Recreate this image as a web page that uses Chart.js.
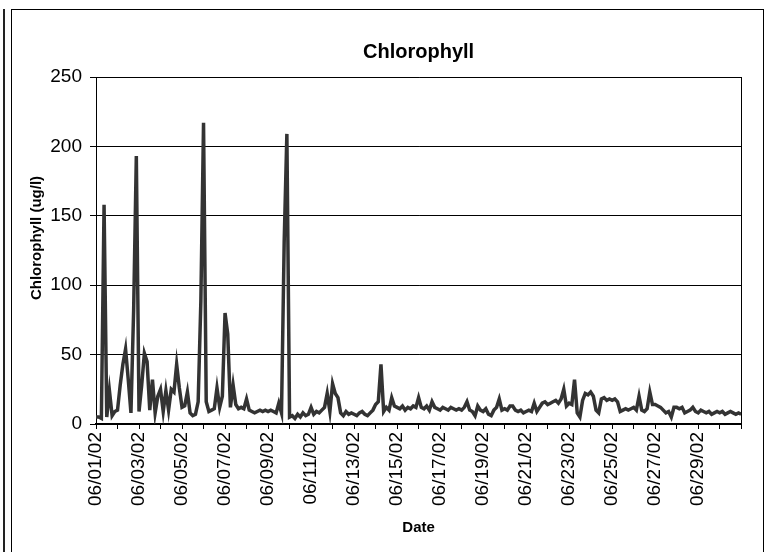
<!DOCTYPE html>
<html>
<head>
<meta charset="utf-8">
<script src="https://cdn.jsdelivr.net/npm/chart.js@4.4.0/dist/chart.umd.min.js"></script>
<style>
  html, body { margin: 0; padding: 0; background: #fff; }
  #wrap { position: relative; width: 767px; height: 552px; overflow: hidden; }
  #edge { position: absolute; left: 3px; top: 9px; width: 2px; height: 600px; background: #222; }
  #box { position: absolute; left: 11px; top: 9px; width: 753px; height: 600px; border: 1px solid #000; box-sizing: border-box; }
  canvas { position: absolute; left: 0; top: 0; }
</style>
</head>
<body>
<div id="wrap">
  <div id="edge"></div>
  <div id="box"></div>
  <canvas id="chl" width="767" height="552"></canvas>
</div>
<script>
// tick labels on the date axis (every other day)
const dateLabels = [
  '06/01/02', '06/03/02', '06/05/02', '06/07/02', '06/09/02',
  '06/11/02', '06/13/02', '06/15/02', '06/17/02', '06/19/02',
  '06/21/02', '06/23/02', '06/25/02', '06/27/02', '06/29/02'
];
const yTicks = [0, 50, 100, 150, 200, 250];

// 3-hourly readings, 8 per day
const samplesPerDay = 8;
const chl = [
  5, 5, 4, 158, 5, 24, 6, 9,        // 06/01
  10, 28, 43, 54, 32, 8, 82, 193,   // 06/02
  9, 28, 51, 45, 10, 32, 8, 20,     // 06/03
  25, 9, 24, 10, 25, 23, 43, 26,    // 06/04
  12, 13, 23, 8, 6, 7, 16, 88,      // 06/05
  217, 16, 9, 10, 11, 26, 12, 20,   // 06/06
  80, 65, 12, 28, 14, 11, 12, 11,   // 06/07
  18, 10, 9, 8, 9, 10, 9, 10,       // 06/08
  9, 10, 9, 8, 15, 8, 131, 209,     // 06/09
  5, 6, 4, 7, 5, 8, 6, 7,           // 06/10
  12, 7, 9, 8, 10, 12, 22, 9,       // 06/11
  29, 22, 19, 8, 6, 9, 7, 8,        // 06/12
  7, 6, 8, 9, 7, 6, 8, 10,          // 06/13
  14, 16, 43, 9, 12, 10, 19, 13,    // 06/14
  12, 11, 13, 10, 12, 11, 13, 12,   // 06/15
  19, 12, 11, 13, 10, 16, 12, 11,   // 06/16
  10, 12, 11, 10, 12, 11, 10, 11,   // 06/17
  10, 12, 16, 10, 9, 6, 13, 10,     // 06/18
  9, 11, 7, 6, 10, 12, 18, 10,      // 06/19
  11, 10, 13, 13, 10, 9, 10, 8,     // 06/20
  9, 10, 9, 15, 9, 12, 15, 16,      // 06/21
  14, 15, 16, 17, 15, 18, 25, 13,   // 06/22
  15, 14, 32, 8, 5, 17, 22, 21,     // 06/23
  23, 20, 10, 8, 18, 19, 17, 18,    // 06/24
  17, 18, 16, 9, 10, 11, 10, 11,    // 06/25
  12, 10, 20, 10, 9, 11, 23, 14,    // 06/26
  14, 13, 12, 10, 8, 9, 5, 12,      // 06/27
  12, 11, 12, 8, 9, 10, 12, 9,      // 06/28
  8, 10, 9, 8, 9, 7, 8, 9,          // 06/29
  8, 9, 7, 8, 9, 8, 7, 8,           // 06/30
  7                                  // 07/01
];

const points = chl.map((v, i) => ({ x: i / samplesPerDay, y: v }));

const ctx = document.getElementById('chl').getContext('2d');

new Chart(ctx, {
  type: 'line',
  data: {
    datasets: [{
      label: 'Chlorophyll',
      data: points,
      borderColor: '#333333',
      borderWidth: 3.5,
      pointRadius: 0,
      tension: 0,
      fill: false
    }]
  },
  options: {
    responsive: false,
    animation: false,
    layout: {
      padding: { left: 12, right: 4, top: 10, bottom: 0 }
    },
    plugins: {
      legend: { display: false },
      tooltip: { enabled: false },
      title: {
        display: true,
        fullSize: false, // centred over the plot, like the original
        text: 'Chlorophyll',
        color: '#000',
        font: { family: 'Liberation Sans', size: 20, weight: 'bold' },
        padding: { top: 30, bottom: 13 }
      }
    },
    scales: {
      x: {
        type: 'linear',
        min: 0,
        max: 30,
        afterFit: (scale) => { scale.height = 128; },
        border: { display: true, color: '#000', width: 2 },
        grid: {
          display: true,
          drawOnChartArea: false,
          drawTicks: true,
          tickLength: 5,
          color: '#000'
        },
        ticks: {
          stepSize: 1,
          maxTicksLimit: 40,
          autoSkip: false,
          minRotation: 90,
          maxRotation: 90,
          padding: 3,
          color: '#000',
          font: { family: 'Liberation Sans', size: 19 },
          callback: (v) => (v % 2 === 0 && v / 2 < dateLabels.length) ? dateLabels[v / 2] : ''
        },
        title: {
          display: true,
          text: 'Date',
          color: '#000',
          font: { family: 'Liberation Sans', size: 15, weight: 'bold' },
          padding: { top: 0, bottom: 15 }
        }
      },
      y: {
        min: yTicks[0],
        max: yTicks[yTicks.length - 1],
        afterFit: (scale) => { scale.width = 84; },
        border: { display: true, color: '#000', width: 1 },
        grid: {
          color: '#000',
          lineWidth: 1,
          tickLength: 6
        },
        ticks: {
          stepSize: 50,
          padding: 8,
          color: '#000',
          font: { family: 'Liberation Sans', size: 19 }
        },
        title: {
          display: true,
          text: '      Chlorophyll (ug/l)',
          color: '#000',
          font: { family: 'Liberation Sans', size: 15, weight: 'bold' },
          padding: { top: 16, bottom: 0 }
        }
      },
      y2: {
        position: 'right',
        min: 0,
        max: 250,
        afterFit: (scale) => { scale.width = 21; },
        border: { display: true, color: '#000', width: 1 },
        grid: { display: false },
        ticks: { display: false }
      }
    }
  }
});
</script>
</body>
</html>
